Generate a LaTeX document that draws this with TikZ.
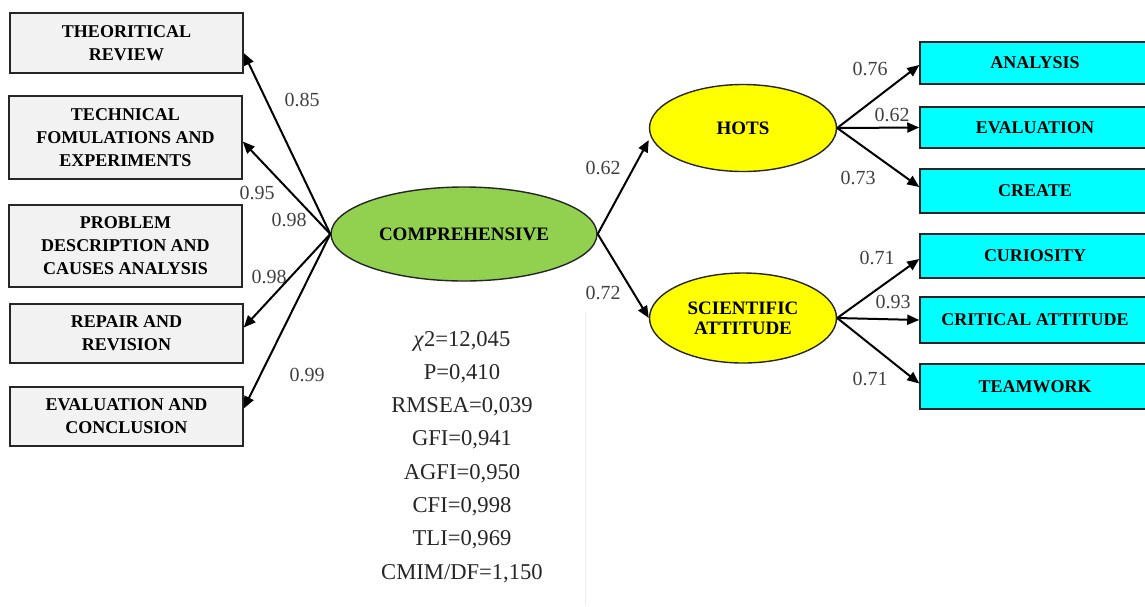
\documentclass[tikz,border=0pt]{standalone}
\usepackage{fontspec}
\setmainfont{Liberation Serif}
\usetikzlibrary{arrows.meta,shapes.geometric,positioning}
\definecolor{semgreen}{RGB}{146,208,80}
\definecolor{semyellow}{RGB}{255,255,0}
\definecolor{semcyan}{RGB}{0,255,255}
\definecolor{semgray}{RGB}{242,242,242}

\begin{document}
\begin{tikzpicture}[x=0.5pt,y=-0.5pt,
  lbox/.style={draw=black!85,line width=0.75pt,fill=semgray,minimum width=116.5pt,
    align=center,inner sep=1pt,font=\fontsize{9}{11.5}\selectfont\bfseries},
  rbox/.style={draw=black!85,line width=0.75pt,fill=semcyan,minimum width=115pt,
    align=center,inner sep=1pt,font=\fontsize{9}{11}\selectfont\bfseries},
  latent/.style={ellipse,draw=black!85,line width=0.7pt,inner sep=0pt,
    align=center,font=\fontsize{9.5}{10}\selectfont\bfseries},
  coef/.style={inner sep=0pt,text=black!75,font=\fontsize{10}{12}\selectfont},
  stat/.style={inner sep=0pt,anchor=base,text=black!85,font=\fontsize{11.3}{14}\selectfont},
  link/.style={-{Triangle[length=6pt,width=5pt]},line width=1pt}]
  \useasboundingbox (0,0) rectangle (1145,606);
  \draw[black!7,line width=0.5pt] (585,312) -- (585,606);

  \node[lbox,minimum height=30pt] (rev) at (126.5,43) {THEORITICAL\\REVIEW};
  \node[lbox,minimum height=41.5pt] (tech) at (125.5,137.5) {TECHNICAL\\FOMULATIONS AND\\EXPERIMENTS};
  \node[lbox,minimum height=41pt] (prob) at (125.5,246) {PROBLEM\\DESCRIPTION AND\\CAUSES ANALYSIS};
  \node[lbox,minimum height=29.5pt] (rep) at (126.5,333.5) {REPAIR AND\\REVISION};
  \node[lbox,minimum height=29.5pt] (evc) at (126.5,416.5) {EVALUATION AND\\CONCLUSION};

  \node[latent,fill=semgreen,minimum width=133pt,minimum height=47pt] (comp) at (464,234) {COMPREHENSIVE};
  \node[latent,fill=semyellow,minimum width=93.5pt,minimum height=43.5pt] (hots) at (743,128) {HOTS};
  \node[latent,fill=semyellow,minimum width=93.5pt,minimum height=45pt] (sci) at (743,318) {SCIENTIFIC\\ATTITUDE};

  \node[rbox,minimum height=21pt] (ana) at (1035,63) {ANALYSIS};
  \node[rbox,minimum height=20.5pt] (ev) at (1035,127.5) {EVALUATION};
  \node[rbox,minimum height=22pt] (cre) at (1035,191) {CREATE};
  \node[rbox,minimum height=22pt] (cur) at (1035,256) {CURIOSITY};
  \node[rbox,minimum height=23pt] (crit) at (1035,320) {CRITICAL ATTITUDE};
  \node[rbox,minimum height=22.5pt] (team) at (1035,386.5) {TEAMWORK};

  \draw[link] (comp.west) -- ([yshift=-5pt]rev.east);
  \draw[link] (comp.west) -- ([yshift=-2pt]tech.east);
  \draw[link] (comp.west) -- ([yshift=3pt]rep.east);
  \draw[link] (comp.west) -- ([yshift=4pt]evc.east);
  \draw[link] (comp.east) -- ([yshift=-6pt]hots.west);
  \draw[link] (comp.east) -- (sci.west);
  \draw[link] (hots.east) -- ([yshift=-1pt]ana.west);
  \draw[link] (hots.east) -- (ev.west);
  \draw[link] (hots.east) -- ([yshift=2pt]cre.west);
  \draw[link] (sci.east) -- ([yshift=-1.5pt]cur.west);
  \draw[link] (sci.east) -- (crit.west);
  \draw[link] (sci.east) -- ([yshift=1.5pt]team.west);

  \node[coef] (c1) at (302,100) {0.85};
  \node[coef] (c2) at (257,193) {0.95};
  \node[coef] (c3) at (289,220) {0.98};
  \node[coef] (c4) at (269,277) {0.98};
  \node[coef] (c5) at (307,375) {0.99};
  \node[coef] (c6) at (603,168) {0.62};
  \node[coef] (c7) at (603,293) {0.72};
  \node[coef] (c8) at (870,69) {0.76};
  \node[coef] (c9) at (892,115) {0.62};
  \node[coef] (c10) at (858,178) {0.73};
  \node[coef] (c11) at (877,258) {0.71};
  \node[coef] (c12) at (893,302) {0.93};
  \node[coef] (c13) at (870,379) {0.71};

  \foreach \st [count=\i] in {{\textit{χ}2=12,045},{P=0,410},{RMSEA=0,039},{GFI=0,941},
      {AGFI=0,950},{CFI=0,998},{TLI=0,969},{CMIM/DF=1,150}}
    \node[stat] (fit\i) at (462,{346+33.3*(\i-1)}) {\st};
\end{tikzpicture}
\end{document}
